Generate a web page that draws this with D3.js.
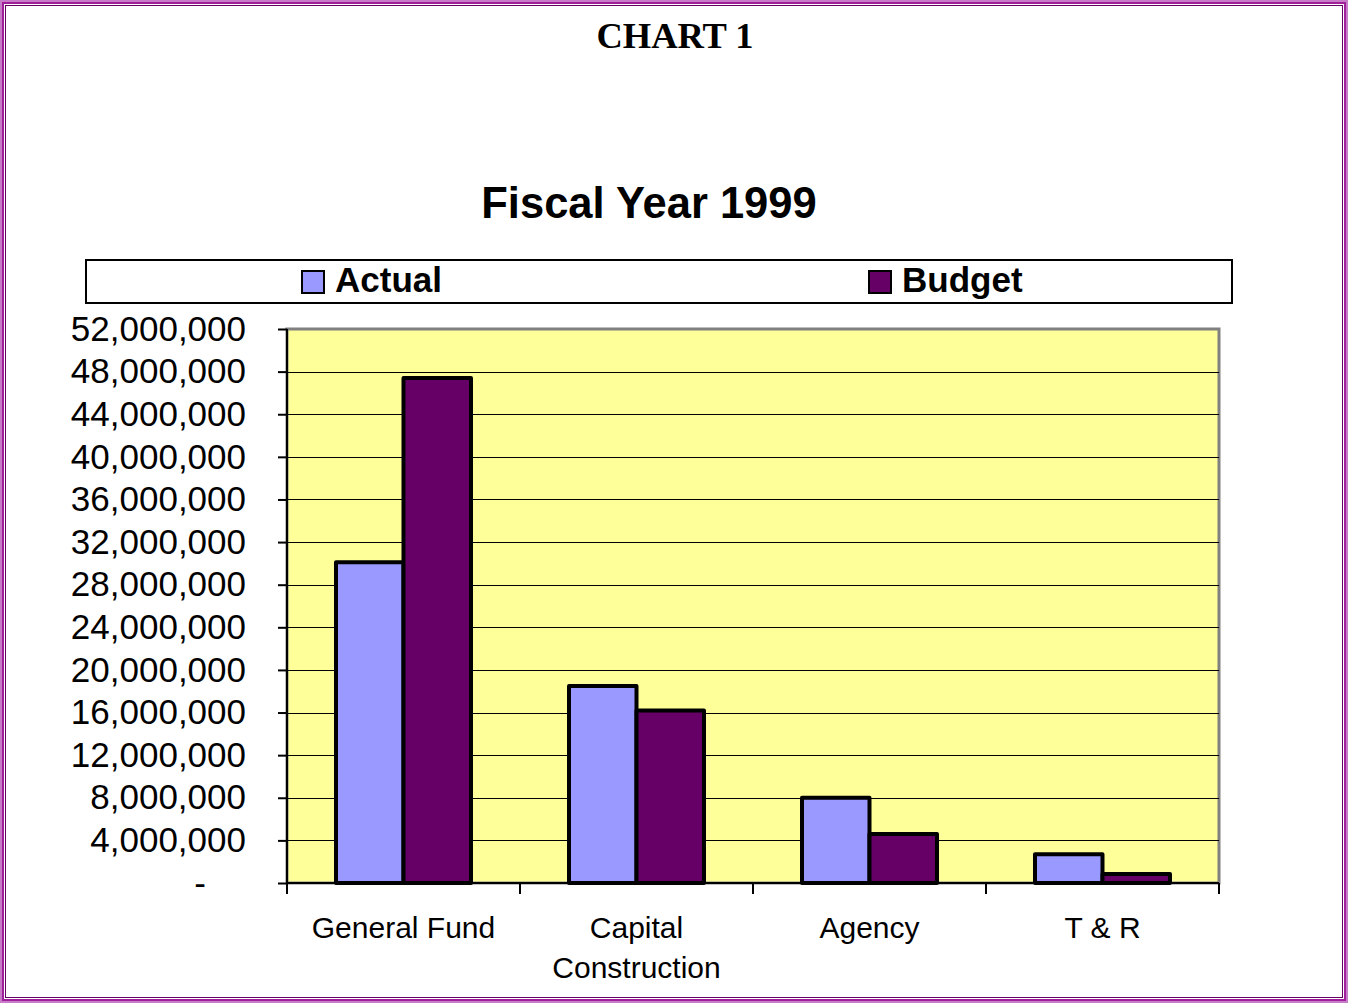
<!DOCTYPE html>
<html>
<head>
<meta charset="utf-8">
<script src="https://cdn.jsdelivr.net/npm/d3@7"></script>
<style>
  html, body { margin: 0; padding: 0; background: #ffffff; }
  svg { display: block; }
</style>
</head>
<body>
<svg id="chart" width="1348" height="1003"></svg>
<script>
// Fund categories and the two series (dollars)
const categories = ["General Fund", "Capital Construction", "Agency", "T & R"];
const seriesNames = ["Actual", "Budget"];
const actualValues = [30100000, 18500000, 8000000, 2700000];
const budgetValues = [47400000, 16200000, 4600000, 850000];
const yTicks = [0, 4000000, 8000000, 12000000, 16000000, 20000000, 24000000,
                28000000, 32000000, 36000000, 40000000, 44000000, 48000000, 52000000];
const seriesColors = ["#9999FF", "#660066"];

const svg = d3.select("#chart");
const W = 1348, H = 1003;

// Decorative page frame
svg.append("rect").attr("x", 1).attr("y", 1).attr("width", W - 2).attr("height", H - 2)
  .attr("fill", "none").attr("stroke", "#c77cc7").attr("stroke-width", 2);
svg.append("rect").attr("x", 3).attr("y", 3).attr("width", W - 6).attr("height", H - 6)
  .attr("fill", "none").attr("stroke", "#a0209c").attr("stroke-width", 2);
svg.append("rect").attr("x", 5.5).attr("y", 5.5).attr("width", W - 11).attr("height", H - 11)
  .attr("fill", "none").attr("stroke", "#660066").attr("stroke-width", 1);

// Headings
svg.append("text").attr("x", 675).attr("y", 48).attr("text-anchor", "middle")
  .attr("font-family", "'Liberation Serif', 'Times New Roman', serif")
  .attr("font-weight", "bold").attr("font-size", 36.5).attr("fill", "#000")
  .text("CHART 1");
svg.append("text").attr("x", 649).attr("y", 218).attr("text-anchor", "middle")
  .attr("font-family", "'Liberation Sans', Arial, sans-serif")
  .attr("font-weight", "bold").attr("font-size", 43.5).attr("fill", "#000")
  .text("Fiscal Year 1999");

// Legend
const legend = svg.append("g");
legend.append("rect").attr("x", 86).attr("y", 260).attr("width", 1146).attr("height", 43)
  .attr("fill", "#fff").attr("stroke", "#000").attr("stroke-width", 2);
const legendX = [302, 869];
seriesNames.forEach((name, i) => {
  legend.append("rect").attr("x", legendX[i]).attr("y", 271).attr("width", 22).attr("height", 22)
    .attr("fill", seriesColors[i]).attr("stroke", "#000").attr("stroke-width", 2);
  legend.append("text").attr("x", legendX[i] + 33).attr("y", 292)
    .attr("font-family", "'Liberation Sans', Arial, sans-serif")
    .attr("font-weight", "bold").attr("font-size", 35).attr("fill", "#000")
    .text(name);
});

// Plot area
const plot = { left: 287, right: 1219, top: 329, bottom: 883 };

const x = d3.scaleBand().domain(categories).range([plot.left, plot.right]).paddingInner(0).paddingOuter(0);
const xSub = d3.scaleBand().domain(seriesNames).range([0, x.bandwidth()]).paddingInner(0).paddingOuter(0.726);
const y = d3.scaleLinear().domain([0, 52000000]).range([plot.bottom, plot.top]);

// Background with grey frame on top/right
svg.append("rect").attr("x", plot.left).attr("y", plot.top)
  .attr("width", plot.right - plot.left).attr("height", plot.bottom - plot.top)
  .attr("fill", "#FFFF99").attr("stroke", "#808080").attr("stroke-width", 3);

// Gridlines
svg.append("g").selectAll("line").data(yTicks.filter(d => d > 0 && d < 52000000)).join("line")
  .attr("x1", plot.left).attr("x2", plot.right)
  .attr("y1", d => Math.round(y(d)) + 0.5).attr("y2", d => Math.round(y(d)) + 0.5)
  .attr("stroke", "#000").attr("stroke-width", 1.2);

// Bars
const rows = categories.map((c, i) => ({ category: c, values: [actualValues[i], budgetValues[i]] }));
const groups = svg.append("g").selectAll("g").data(rows).join("g")
  .attr("transform", d => `translate(${x(d.category)},0)`);
groups.selectAll("rect").data(d => d.values.map((v, j) => ({ name: seriesNames[j], value: v, j }))).join("rect")
  .attr("x", d => xSub(d.name))
  .attr("y", d => y(d.value))
  .attr("width", xSub.bandwidth())
  .attr("height", d => y(0) - y(d.value))
  .attr("fill", d => seriesColors[d.j])
  .attr("stroke", "#000").attr("stroke-width", 4).attr("stroke-linejoin", "round");

// Y axis
const yAxis = d3.axisLeft(y).tickValues(yTicks).tickSize(9).tickPadding(32)
  .tickFormat(d => d === 0 ? "-" : d3.format(",")(d));
const yG = svg.append("g").attr("transform", `translate(${plot.left},0)`).call(yAxis);
yG.select(".domain").attr("stroke", "#000").attr("stroke-width", 2).attr("d", `M0,${plot.top}V${plot.bottom}`);
yG.selectAll(".tick line").attr("stroke", "#000").attr("stroke-width", 2);
yG.selectAll(".tick text").attr("font-family", "'Liberation Sans', Arial, sans-serif")
  .attr("font-size", 35).attr("fill", "#000");
// the zero label is a dash sitting left of the digit column
yG.selectAll(".tick text").filter(d => d === 0).attr("dx", -40);

// X axis (category boundaries as ticks)
const xG = svg.append("g").attr("transform", `translate(0,${plot.bottom})`);
xG.append("line").attr("x1", plot.left).attr("x2", plot.right).attr("y1", 0).attr("y2", 0)
  .attr("stroke", "#000").attr("stroke-width", 2);
const boundaries = categories.map(c => x(c)).concat([plot.right]);
xG.selectAll("line.tick").data(boundaries).join("line").attr("class", "tick")
  .attr("x1", d => d).attr("x2", d => d).attr("y1", 0).attr("y2", 11)
  .attr("stroke", "#000").attr("stroke-width", 2);

const labelLines = { "Capital Construction": ["Capital", "Construction"] };
categories.forEach(c => {
  const lines = labelLines[c] || [c];
  const t = xG.append("text").attr("text-anchor", "middle")
    .attr("font-family", "'Liberation Sans', Arial, sans-serif")
    .attr("font-size", 30).attr("fill", "#000");
  lines.forEach((ln, k) => {
    t.append("tspan").attr("x", x(c) + x.bandwidth() / 2).attr("y", 55 + k * 40).text(ln);
  });
});
</script>
</body>
</html>
